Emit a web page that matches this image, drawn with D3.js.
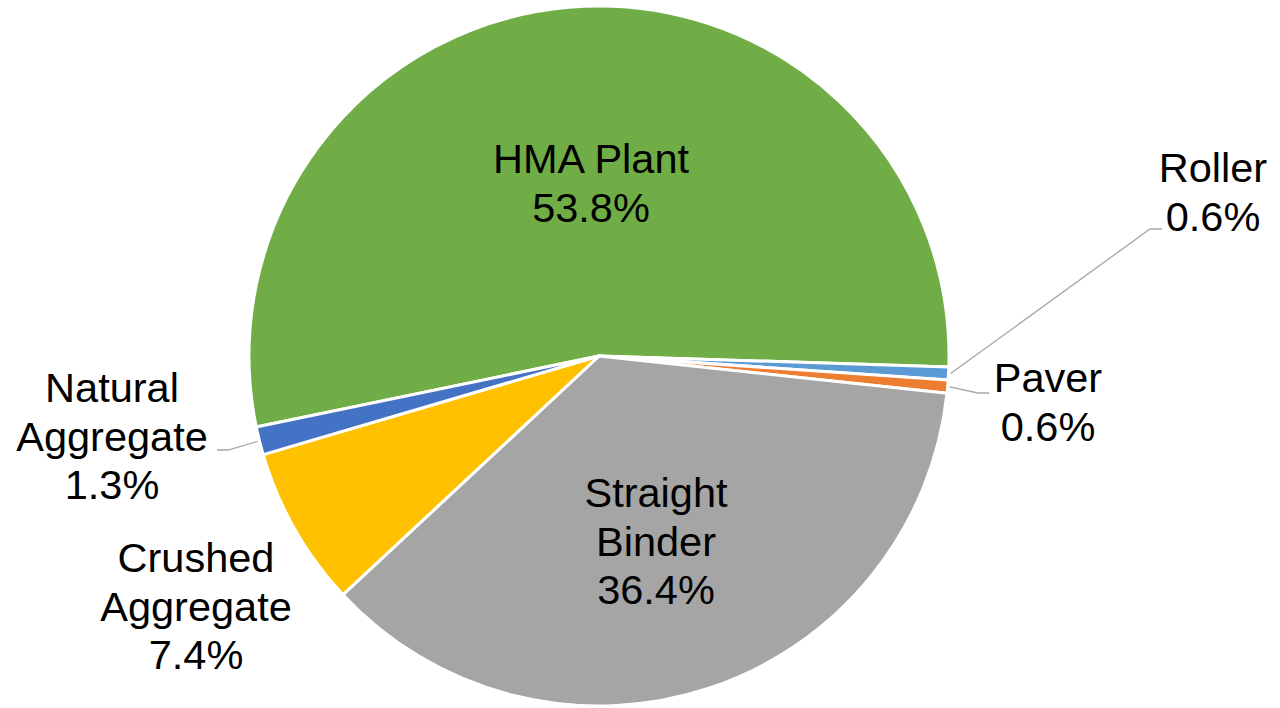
<!DOCTYPE html>
<html>
<head>
<meta charset="utf-8">
<script src="https://cdn.jsdelivr.net/npm/d3@7"></script>
<style>
  html, body { margin: 0; padding: 0; background: #ffffff; }
  svg { display: block; }
  text { font-family: "Liberation Sans", Arial, sans-serif; }
</style>
</head>
<body>
<svg id="chart" width="1280" height="708"></svg>
<script>
// ---- data ----
const categories = ["HMA Plant", "Roller", "Paver", "Straight Binder", "Crushed Aggregate", "Natural Aggregate"];
const shares = [53.8, 0.6, 0.6, 36.4, 7.4, 1.3];
const valueLabels = ["53.8%", "0.6%", "0.6%", "36.4%", "7.4%", "1.3%"];
const colors = ["#70AD47", "#5B9BD5", "#ED7D31", "#A5A5A5", "#FFC000", "#4472C4"];

// ---- layout (label placement) ----
const labelLines = [
  ["HMA Plant"], ["Roller"], ["Paver"], ["Straight", "Binder"], ["Crushed", "Aggregate"], ["Natural", "Aggregate"]
];
const labelAnchor = [[591, 173], [1213, 182], [1048, 392], [656, 507], [196, 572], [112, 402]];
// leader line: [elbow, end] or null
const leaders = [null, [[1150, 229], [1162, 229]], [[978, 393], [989, 393]], null, null, [[228, 450], [217, 450]]];

const cx = 599, cy = 356, R = 350;
const fontSize = 41.5, lineH = 48.5;
const startDeg = 258.3;

const svg = d3.select("#chart");
const g = svg.append("g").attr("transform", `translate(${cx},${cy})`);

const data = categories.map((c, i) => ({ name: c, value: shares[i], i }));
const pie = d3.pie().sort(null).value(d => d.value)
  .startAngle(startDeg * Math.PI / 180)
  .endAngle(startDeg * Math.PI / 180 + 2 * Math.PI);
const arcs = pie(data);
const arc = d3.arc().innerRadius(0).outerRadius(R);

g.selectAll("path.slice").data(arcs).enter().append("path")
  .attr("class", "slice")
  .attr("d", arc)
  .attr("fill", d => colors[d.data.i])
  .attr("stroke", "#ffffff")
  .attr("stroke-width", 3)
  .attr("stroke-linejoin", "round");

// leader lines
arcs.forEach(a => {
  const L = leaders[a.data.i];
  if (!L) return;
  const mid = (a.startAngle + a.endAngle) / 2;
  const p0 = [cx + (R + 2) * Math.sin(mid), cy - (R + 2) * Math.cos(mid)];
  svg.append("polyline")
    .attr("points", [p0, L[0], L[1]].map(p => p.join(",")).join(" "))
    .attr("fill", "none")
    .attr("stroke", "#A6A6A6")
    .attr("stroke-width", 1.3);
});

// labels
arcs.forEach(a => {
  const i = a.data.i;
  const lines = labelLines[i].concat([valueLabels[i]]);
  const [x, y] = labelAnchor[i];
  const t = svg.append("text")
    .attr("text-anchor", "middle")
    .attr("font-size", fontSize)
    .attr("fill", "#000000");
  lines.forEach((ln, k) => {
    t.append("tspan").attr("x", x).attr("y", y + k * lineH).text(ln);
  });
});
</script>
</body>
</html>
